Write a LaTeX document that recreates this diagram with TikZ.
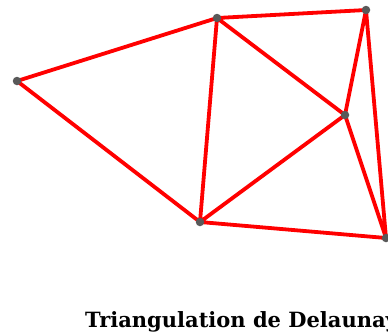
\documentclass[tikz,border=0pt]{standalone}
\usepackage{fontspec}
\newfontfamily\capfont{DejaVu Serif}
\begin{document}
\begin{tikzpicture}[x=1pt,y=-1pt,
  edge/.style={draw=red,line width=3.8pt},
  pt/.style={circle,fill=black!65,inner sep=0pt,minimum size=8.5pt}]
\useasboundingbox (0,0) rectangle (388,335);
\coordinate (A) at (17,81);
\coordinate (B) at (217,18);
\coordinate (C) at (366,10);
\coordinate (D) at (345,115);
\coordinate (E) at (200,222);
\coordinate (F) at (386,238);
\draw[edge] (A)--(B) (A)--(E) (B)--(E) (B)--(C) (B)--(D) (E)--(D) (C)--(D) (C)--(F) (D)--(F) (E)--(F);
\foreach \p in {A,B,C,D,E,F} \node[pt] (n\p) at (\p) {};
\node[anchor=base west,inner sep=0pt] (cap) at (85,327) {\capfont\bfseries\fontsize{21}{24}\selectfont Triangulation de Delaunay};
\end{tikzpicture}
\end{document}
